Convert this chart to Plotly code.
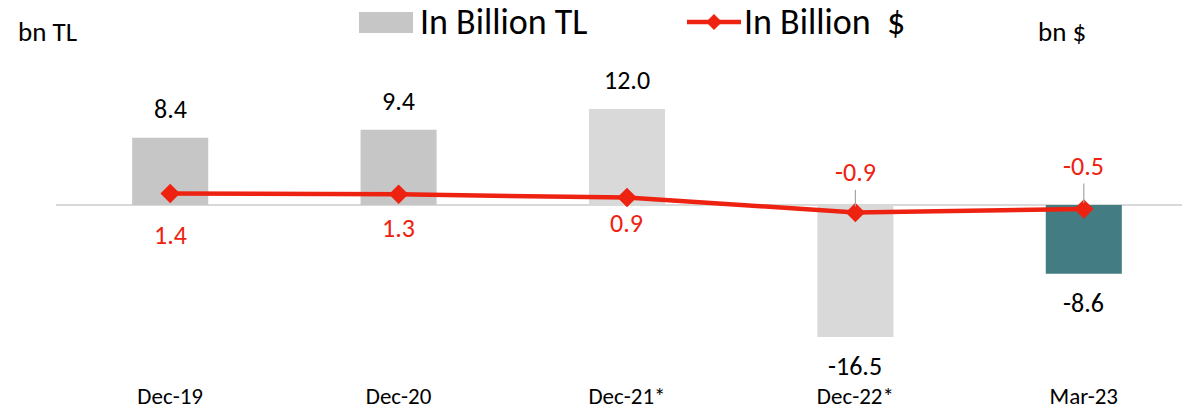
import plotly.graph_objects as go

categories = ["Dec-19", "Dec-20", "Dec-21*", "Dec-22*", "Mar-23"]
tl_values = [8.4, 9.4, 12.0, -16.5, -8.6]
usd_values = [1.4, 1.3, 0.9, -0.9, -0.5]
bar_colors = ["#c6c6c6", "#c6c6c6", "#d9d9d9", "#d9d9d9", "#437d83"]
usd_label_shift = [-41, -34, -25, 40, 43]

W, H = 1182, 409
L, R, T, B = 56, 0, 50, 49
FONT = "Carlito, Calibri, Lato, sans-serif"
RED = "#ee2211"

def px(x):
    return (x - L) / (W - L - R)

def py(y):
    return (H - B - y) / (H - T - B)

fig = go.Figure()
fig.add_trace(go.Bar(
    x=categories, y=tl_values, marker_color=bar_colors, marker_line_width=0,
    name="In Billion TL", showlegend=False, yaxis="y"))
fig.add_trace(go.Scatter(
    x=categories, y=usd_values, mode="lines+markers", name="In Billion  $",
    line=dict(color=RED, width=4.5), marker=dict(symbol="diamond", size=15, color=RED),
    showlegend=False, yaxis="y2"))

ann = []
for c, v in zip(categories, tl_values):
    ann.append(dict(x=c, y=v, xref="x", yref="y", text=f"{v:.1f}", showarrow=False,
                    yanchor="middle", yshift=29 if v >= 0 else -29,
                    font=dict(family=FONT, size=26, color="#000000")))
for c, v, s in zip(categories, usd_values, usd_label_shift):
    if v < 0:
        ann.append(dict(x=c, y=v, xref="x", yref="y2", text=f"{v:.1f}", showarrow=True,
                        arrowhead=0, arrowwidth=1.2, arrowcolor="#a6a6a6", ax=0, ay=-s,
                        standoff=6, yanchor="middle",
                        font=dict(family=FONT, size=26, color=RED)))
    else:
        ann.append(dict(x=c, y=v, xref="x", yref="y2", text=f"{v:.1f}", showarrow=False,
                        yanchor="middle", yshift=s,
                        font=dict(family=FONT, size=26, color=RED)))

# axis unit titles
ann.append(dict(x=px(47), y=py(31), xref="paper", yref="paper", text="bn TL", showarrow=False,
                xanchor="center", yanchor="middle", font=dict(family=FONT, size=27, color="#000")))
ann.append(dict(x=px(1062), y=py(32), xref="paper", yref="paper", text="bn $", showarrow=False,
                xanchor="center", yanchor="middle", font=dict(family=FONT, size=27, color="#000")))
# custom legend
ann.append(dict(x=px(418), y=py(22), xref="paper", yref="paper", text="In Billion TL", showarrow=False,
                xanchor="left", yanchor="middle", font=dict(family=FONT, size=36, color="#000")))
ann.append(dict(x=px(742), y=py(22), xref="paper", yref="paper", text="In Billion&nbsp;&nbsp;$", showarrow=False,
                xanchor="left", yanchor="middle", font=dict(family=FONT, size=36, color="#000")))

shapes = [
    dict(type="rect", xref="paper", yref="paper", x0=px(359), x1=px(413), y0=py(33), y1=py(12),
         fillcolor="#c6c6c6", line_width=0),
    dict(type="line", xref="paper", yref="paper", x0=px(687), x1=px(741), y0=py(22), y1=py(22),
         line=dict(color=RED, width=4.5)),
    dict(type="path", xref="paper", yref="paper",
         path=f"M {px(706)} {py(22)} L {px(714)} {py(14)} L {px(722)} {py(22)} L {px(714)} {py(30)} Z",
         fillcolor=RED, line_width=0),
]

fig.update_layout(
    width=W, height=H, margin=dict(l=L, r=R, t=T, b=B),
    plot_bgcolor="white", paper_bgcolor="white",
    bargap=0.667, showlegend=False,
    annotations=ann, shapes=shapes,
    font=dict(family=FONT, color="#000"),
    xaxis=dict(range=[-0.5, 4.43], showgrid=False, showline=False, ticks="",
               tickfont=dict(family=FONT, size=23, color="#000"), ticklabelstandoff=20),
    yaxis=dict(range=[-19.375, 19.375], showgrid=False, showticklabels=False, zeroline=True,
               zerolinecolor="#d9d9d9", zerolinewidth=2),
    yaxis2=dict(range=[-18.9, 18.9], overlaying="y", side="right", showgrid=False,
                showticklabels=False, zeroline=False),
)

fig.write_html("out.html", config={"displayModeBar": False},
               post_script="document.body.style.margin='0';document.body.style.overflow='hidden';")
